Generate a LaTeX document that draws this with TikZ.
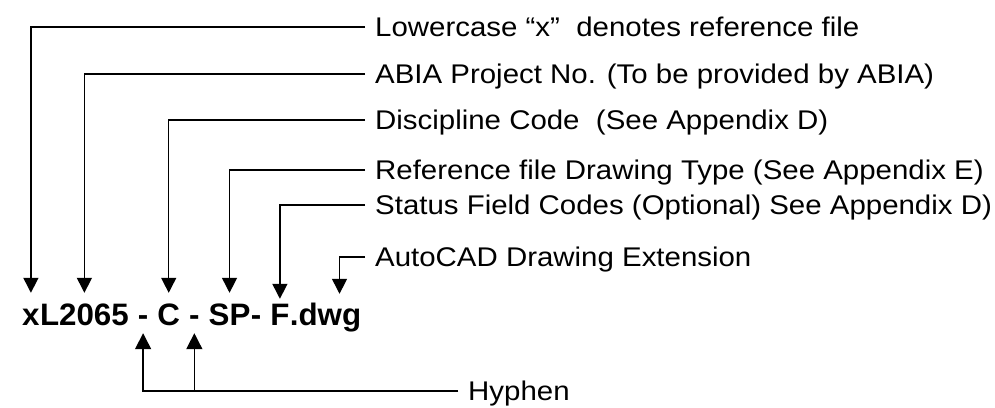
\documentclass[tikz,border=0pt]{standalone}
\usepackage{fontspec}
\usetikzlibrary{arrows.meta}
\newfontfamily\lblfont[FakeStretch=1.09]{Liberation Sans}
\newfontfamily\codefont[FakeStretch=1.01]{Liberation Sans}
\begin{document}
\begin{tikzpicture}[x=1pt,y=-1pt,
  lbl/.style={anchor=west,inner xsep=10pt,inner ysep=0pt,text height=19pt,text depth=0pt,
    font=\lblfont\fontsize{27}{27}\selectfont},
  code/.style={anchor=base west,inner sep=0pt,text height=22pt,text depth=8pt,
    font=\codefont\bfseries\fontsize{31}{31}\selectfont},
  conn/.style={line width=1.5pt,-{Triangle[width=15pt,length=15pt]}},
  hconn/.style={line width=1.5pt,-{Triangle[width=16pt,length=16pt]}}]
\useasboundingbox (0,0) rectangle (995,407);
% code text pieces
\node[code] (nx) at (22,325) {x};
\node[code] (nL) at (nx.base east) {L2065};
\node[code] (h1) at (nL.base east) {\null\ -\ \null};
\node[code] (nC) at (h1.base east) {C};
\node[code] (h2) at (nC.base east) {\null\ -\ \null};
\node[code] (nSP) at (h2.base east) {SP};
\node[code] (h3) at (nSP.base east) {-\ \null};
\node[code] (nF) at (h3.base east) {F};
\node[code] (ndwg) at (nF.base east) {.dwg};
\coordinate (ext) at ([xshift=14pt]ndwg.north);
% labels
\node[lbl] (l1) at (365,27) {Lowercase “x”~ denotes reference file};
\node[lbl] (l2) at (365,74) {ABIA Project No. (To be provided by ABIA)};
\node[lbl] (l3) at (365,120) {Discipline Code~ (See Appendix D)};
\node[lbl] (l4) at (365,170) {Reference file Drawing Type (See Appendix E)};
\node[lbl] (l5) at (365,205) {Status Field Codes (Optional) See Appendix D)};
\node[lbl] (l6) at (365,257) {AutoCAD Drawing Extension};
\node[lbl] (l7) at (458,391) {Hyphen};
% connectors
\draw[conn,shorten >=10pt] (l1.west) -| (nx.north);
\draw[conn,shorten >=10pt] (l2.west) -| (nL.north);
\draw[conn,shorten >=10pt] (l3.west) -| (nC.north);
\draw[conn,shorten >=10pt] (l4.west) -| (nSP.north);
\draw[conn,shorten >=4pt] (l5.west) -| (nF.north);
\draw[conn,shorten >=9pt] (l6.west) -| (ext);
\draw[hconn] (l7.west) -| (h2.south);
\draw[hconn] (l7.west) -| (h1.south);
\end{tikzpicture}
\end{document}
